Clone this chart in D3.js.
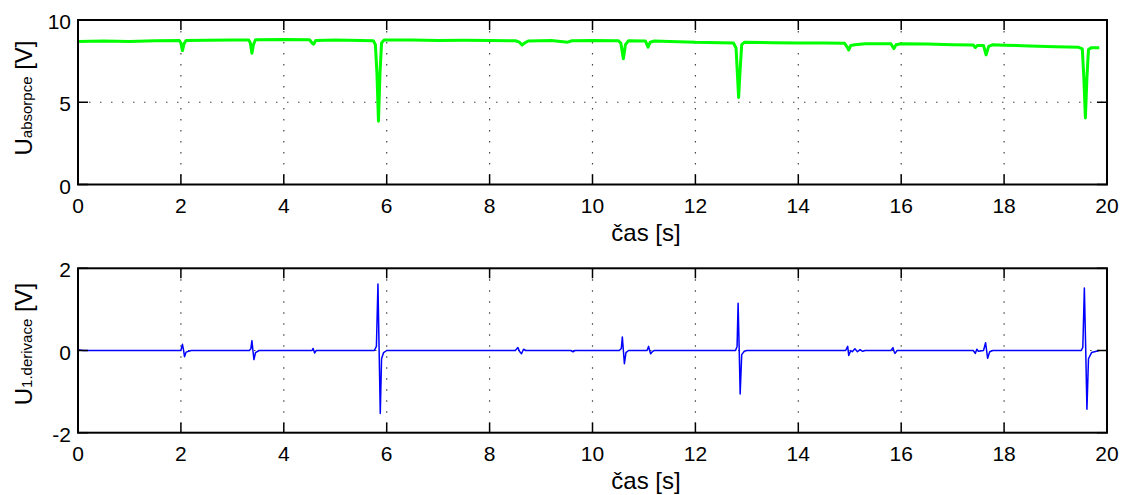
<!DOCTYPE html>
<html>
<head>
<meta charset="utf-8">
<script src="https://cdn.jsdelivr.net/npm/d3@7"></script>
<style>
  body { margin: 0; background: #fff; }
  text { font-family: "Liberation Sans", Arial, sans-serif; fill: #000; }
</style>
</head>
<body>
<svg id="chart" width="1128" height="495"></svg>
<script>
// absorption signal (time in s, value in V)
const absT = [0, 0.5, 1.0, 1.5, 1.97, 2.0, 2.03, 2.06, 2.1, 2.5, 3.0, 3.32, 3.35, 3.38, 3.41, 3.45,
  4.0, 4.5, 4.55, 4.58, 4.62, 5.0, 5.5, 5.74, 5.78, 5.81, 5.84, 5.87, 5.9, 5.95,
  6.5, 7.0, 7.5, 8.0, 8.5, 8.58, 8.63, 8.68, 8.75, 9.2, 9.52, 9.6, 10.0, 10.5, 10.55, 10.6, 10.64, 10.7,
  11.03, 11.08, 11.12, 11.2, 11.5, 12.0, 12.5, 12.74, 12.79, 12.82, 12.84, 12.87, 12.9, 12.95,
  13.5, 14.0, 14.5, 14.9, 14.95, 14.98, 15.02, 15.1, 15.3, 15.8, 15.83, 15.86, 15.9, 16.0,
  16.5, 17.0, 17.4, 17.44, 17.48, 17.6, 17.65, 17.7, 17.78, 18.0, 18.5, 19.0, 19.45, 19.52,
  19.55, 19.58, 19.61, 19.64, 19.7, 19.85];
const absV = [8.7, 8.72, 8.7, 8.74, 8.75, 8.6, 8.14, 8.55, 8.75, 8.77, 8.78, 8.78, 8.6, 7.98, 8.5, 8.8,
  8.82, 8.8, 8.6, 8.53, 8.75, 8.78, 8.76, 8.74, 8.5, 6.8, 3.85, 6.8, 8.6, 8.78,
  8.78, 8.76, 8.77, 8.75, 8.74, 8.65, 8.48, 8.6, 8.72, 8.75, 8.65, 8.74, 8.76, 8.74, 8.6, 7.64, 8.5, 8.74,
  8.72, 8.35, 8.65, 8.72, 8.7, 8.64, 8.62, 8.6, 8.3, 6.5, 5.29, 7.0, 8.5, 8.64,
  8.62, 8.6, 8.6, 8.58, 8.35, 8.18, 8.45, 8.5, 8.55, 8.55, 8.4, 8.26, 8.5, 8.56,
  8.54, 8.5, 8.48, 8.32, 8.45, 8.45, 7.88, 8.4, 8.5, 8.47, 8.42, 8.38, 8.34, 8.25,
  6.5, 4.04, 6.5, 8.2, 8.32, 8.32];

// first derivative
const derT = [0, 0.1, 2.0, 2.03, 2.05, 2.07, 2.1, 2.15, 2.2,
  3.33, 3.36, 3.38, 3.4, 3.42, 3.45, 3.52,
  4.55, 4.57, 4.6, 4.63,
  5.76, 5.8, 5.83, 5.85, 5.875, 5.9, 5.94, 6.0,
  8.5, 8.55, 8.58, 8.62, 8.66, 8.7, 9.58, 9.62, 9.66,
  10.52, 10.56, 10.58, 10.6, 10.62, 10.65, 10.7,
  11.06, 11.09, 11.11, 11.13, 11.17, 11.2,
  12.78, 12.81, 12.83, 12.85, 12.87, 12.9, 12.95, 13.0,
  14.92, 14.96, 14.98, 15.02, 15.05, 15.1, 15.15, 15.2, 15.25, 15.3,
  15.8, 15.84, 15.86, 15.88, 15.92,
  17.4, 17.44, 17.47, 17.5, 17.6, 17.64, 17.66, 17.68, 17.72, 17.78,
  19.5, 19.53, 19.56, 19.585, 19.61, 19.64, 19.7, 19.85];
const derV = [0.02, 0, 0, 0.15, 0.02, -0.15, -0.04, -0.02, 0,
  0, 0.04, 0.24, 0.0, -0.22, -0.05, 0,
  0, 0.05, -0.06, 0,
  0, 0.1, 1.62, 0.2, -1.53, -0.2, -0.05, 0,
  0, 0.07, -0.02, -0.08, 0.03, 0, 0, -0.03, 0,
  0, 0.05, 0.33, 0.0, -0.32, -0.05, 0,
  0, 0.1, 0, -0.08, -0.02, 0,
  0, 0.1, 1.15, 0.1, -1.06, -0.1, -0.02, 0,
  0, 0.1, -0.12, 0, -0.03, 0.04, -0.03, 0.02, -0.02, 0,
  0, 0.07, -0.02, -0.07, 0,
  0, -0.07, 0.03, -0.02, 0, 0.19, 0, -0.19, -0.03, 0,
  0, 0.08, 1.52, 0.1, -1.43, -0.2, -0.05, 0];

const xTicks = [0, 2, 4, 6, 8, 10, 12, 14, 16, 18, 20];
const absTicks = [0, 5, 10];
const derTicks = [-2, 0, 2];

const svg = d3.select('#chart');
const left = 78, right = 1107;

const x = d3.scaleLinear().domain([0, 20]).range([left, right]);

function panel(top, bottom, yDomain, yTicks, t, v, color, width, sub, titleY) {
  const y = d3.scaleLinear().domain(yDomain).range([bottom, top]);
  const g = svg.append('g');

  // dotted grid
  g.selectAll('.gx').data(xTicks.slice(1, -1)).enter().append('line')
    .attr('x1', d => x(d)).attr('x2', d => x(d))
    .attr('y1', top).attr('y2', bottom)
    .attr('stroke', '#444').attr('stroke-width', 1.2)
    .style('stroke-dasharray', '1.5, 9.5');
  g.selectAll('.gy').data(yTicks.slice(1, -1)).enter().append('line')
    .attr('x1', left).attr('x2', right)
    .attr('y1', d => y(d)).attr('y2', d => y(d))
    .attr('stroke', '#444').attr('stroke-width', 1.2)
    .style('stroke-dasharray', '1.5, 9.5');

  // signal
  const line = d3.line().x((d, i) => x(t[i])).y((d, i) => y(v[i]));
  g.append('path').datum(v)
    .attr('d', line)
    .attr('fill', 'none')
    .attr('stroke', color)
    .attr('stroke-width', width)
    .attr('stroke-linejoin', 'round');

  // inside ticks on all four sides (matlab box)
  const tk = 10;
  g.selectAll('.tb').data(xTicks).enter().append('line')
    .attr('x1', d => x(d)).attr('x2', d => x(d))
    .attr('y1', bottom).attr('y2', bottom - tk)
    .attr('stroke', '#000').attr('stroke-width', 1.5);
  g.selectAll('.tt').data(xTicks).enter().append('line')
    .attr('x1', d => x(d)).attr('x2', d => x(d))
    .attr('y1', top).attr('y2', top + tk)
    .attr('stroke', '#000').attr('stroke-width', 1.5);
  g.selectAll('.tl').data(yTicks).enter().append('line')
    .attr('x1', left).attr('x2', left + tk)
    .attr('y1', d => y(d)).attr('y2', d => y(d))
    .attr('stroke', '#000').attr('stroke-width', 1.5);
  g.selectAll('.tr').data(yTicks).enter().append('line')
    .attr('x1', right).attr('x2', right - tk)
    .attr('y1', d => y(d)).attr('y2', d => y(d))
    .attr('stroke', '#000').attr('stroke-width', 1.5);

  g.append('rect')
    .attr('x', left).attr('y', top)
    .attr('width', right - left).attr('height', bottom - top)
    .attr('fill', 'none').attr('stroke', '#000').attr('stroke-width', 2);

  // tick labels
  g.selectAll('.lx').data(xTicks).enter().append('text')
    .attr('x', d => x(d)).attr('y', bottom + 28)
    .attr('text-anchor', 'middle')
    .style('font-size', '21px')
    .text(d => d);
  g.selectAll('.ly').data(yTicks).enter().append('text')
    .attr('x', left - 7).attr('y', d => y(d) + 9)
    .attr('text-anchor', 'end')
    .style('font-size', '21px')
    .text(d => d);

  // axis titles
  g.append('text')
    .attr('x', 646).attr('y', bottom + 56)
    .attr('text-anchor', 'middle')
    .style('font-size', '24px')
    .text('čas [s]');
  const yl = g.append('text')
    .attr('transform', `translate(32,${titleY}) rotate(-90)`)
    .attr('text-anchor', 'middle')
    .style('font-size', '24px');
  yl.append('tspan').text('U');
  yl.append('tspan').style('font-size', '15px').text(sub);
  yl.append('tspan').text(' [V]');
}

panel(20, 184.5, [0, 10], absTicks, absT, absV, '#00ff00', 3, 'absorpce', 98);
panel(268.3, 432.7, [-2, 2], derTicks, derT, derV, '#0000ff', 1.5, '1.derivace', 344);
</script>
</body>
</html>
